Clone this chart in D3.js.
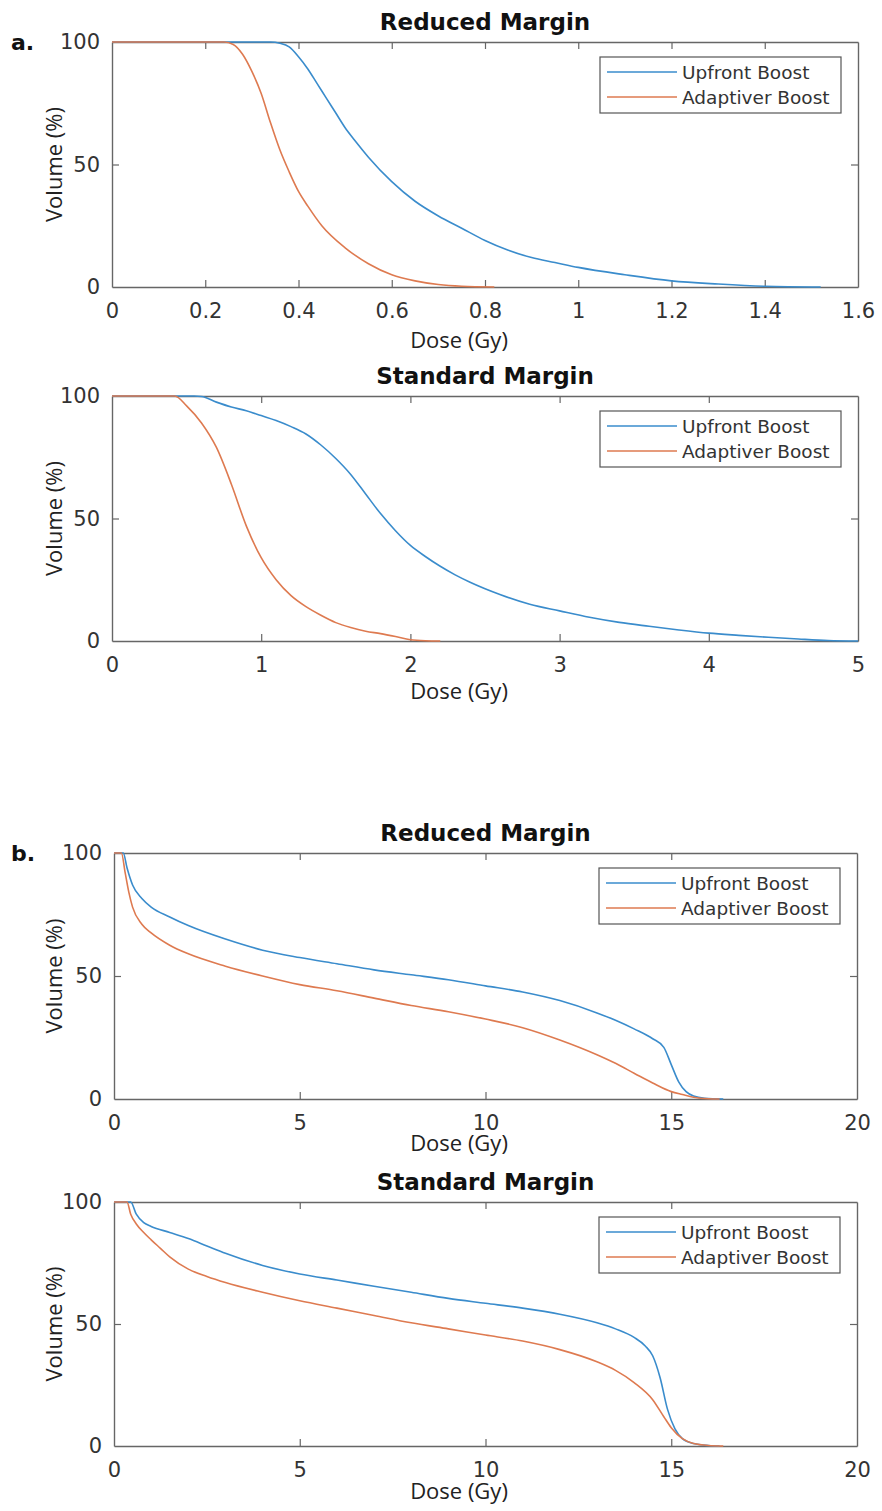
<!DOCTYPE html>
<html>
<head>
<meta charset="utf-8">
<script src="https://cdn.jsdelivr.net/npm/d3@7"></script>
<style>
  body { margin: 0; background: #fff; }
  svg { display: block; }
  .tick text { font-family: "DejaVu Sans", sans-serif; font-size: 21px; fill: #333; }
  .axlabel { font-family: "Open Sans", sans-serif; font-size: 22px; fill: #222; }
  .ptitle { font-family: "DejaVu Sans", sans-serif; font-weight: bold; font-size: 23px; fill: #111; }
  .legtext { font-family: "DejaVu Sans", sans-serif; font-size: 18.5px; fill: #333; }
  .panelTag { font-family: "DejaVu Sans", sans-serif; font-weight: bold; font-size: 22px; fill: #111; }
</style>
</head>
<body>
<svg id="chart" width="882" height="1511"></svg>
<script>
// dose (Gy), volume (%)
const aReducedUpfront = [[0,100],[0.3,100],[0.34,100],[0.36,99.5],[0.38,98],[0.40,94],[0.42,89],[0.44,83],[0.46,77],[0.48,71],[0.50,65],[0.52,60],[0.55,53],[0.6,43],[0.65,35],[0.7,29],[0.75,24],[0.8,19],[0.85,15],[0.9,12],[0.95,10],[1.0,8],[1.1,5],[1.2,2.5],[1.3,1.2],[1.4,0.3],[1.52,0]];
const aReducedAdaptive = [[0,100],[0.24,100],[0.26,99],[0.28,95],[0.3,88],[0.32,79],[0.34,67],[0.36,56],[0.38,47],[0.4,39],[0.42,33],[0.45,25],[0.5,16],[0.55,9.5],[0.6,5],[0.65,2.5],[0.7,1],[0.75,0.3],[0.82,0]];
const aStandardUpfront = [[0,100],[0.55,100],[0.6,99.8],[0.7,97.5],[0.8,95.5],[0.9,94],[1.0,92],[1.1,90],[1.2,87.5],[1.3,84.5],[1.4,80],[1.5,74.5],[1.6,68],[1.7,60],[1.8,52],[1.9,45],[2.0,39],[2.1,34.5],[2.2,30.5],[2.3,27],[2.4,24],[2.6,19],[2.8,15],[3.0,12.3],[3.2,9.7],[3.4,7.6],[3.6,6],[3.8,4.5],[4.0,3.2],[4.2,2.3],[4.4,1.5],[4.6,0.8],[4.8,0.2],[5.0,0]];
const aStandardAdaptive = [[0,100],[0.42,100],[0.5,96],[0.6,89],[0.7,79],[0.8,64],[0.9,47],[1.0,34],[1.1,25],[1.2,18.5],[1.3,14],[1.4,10.5],[1.5,7.5],[1.6,5.5],[1.7,4],[1.8,3],[1.9,1.8],[2.0,0.5],[2.1,0.1],[2.2,0]];
const bReducedUpfront = [[0,100],[0.25,100],[0.35,94],[0.5,87],[0.75,81.5],[1,78],[1.5,74],[2,70.5],[3,65],[4,60.5],[5,57.5],[6,55],[7,52.5],[8,50.5],[9,48.5],[10,46],[11,43.5],[12,40],[13,35],[13.5,32],[14,28.5],[14.5,24.5],[14.8,21],[15.0,14],[15.2,7],[15.4,3],[15.6,1.2],[15.9,0.3],[16.4,0]];
const bReducedAdaptive = [[0,100],[0.2,100],[0.3,92],[0.4,84],[0.5,78],[0.75,71],[1,67.5],[1.5,62.5],[2,59],[3,54],[4,50],[5,46.5],[6,44],[7,41],[8,38],[9,35.5],[10,32.5],[11,29],[12,24],[13,18],[13.5,14.5],[14,10.5],[14.5,6.5],[15,3],[15.3,1.8],[15.6,0.7],[16,0.1],[16.3,0]];
const bStandardUpfront = [[0,100],[0.45,100],[0.6,95],[0.8,91.5],[1,90],[1.5,87.5],[2,85],[2.5,82],[3,79],[4,74],[5,70.5],[6,68],[7,65.5],[8,63],[9,60.5],[10,58.5],[11,56.5],[12,54],[13,50.5],[13.5,48],[14,44.5],[14.3,41],[14.5,37],[14.7,28],[14.9,15],[15.1,7],[15.3,3],[15.6,1],[16,0.2],[16.3,0]];
const bStandardAdaptive = [[0,100],[0.35,100],[0.45,95],[0.6,91],[0.8,87.5],[1,84.5],[1.25,81],[1.5,77.5],[2,72.5],[2.5,69.5],[3,67],[4,63],[5,59.5],[6,56.5],[7,53.5],[8,50.5],[9,48],[10,45.5],[11,43],[12,39.5],[13,34.5],[13.5,31],[14,26],[14.5,19],[14.8,12],[15,7.5],[15.3,3],[15.6,1],[16,0.2],[16.4,0]];

const seriesNames = ['Upfront Boost', 'Adaptiver Boost'];
const seriesColors = ['#3a8ccc', '#de7a50'];
const yTicks = [0, 50, 100];
const xTicksA1 = [0, 0.2, 0.4, 0.6, 0.8, 1, 1.2, 1.4, 1.6];
const xTicksA2 = [0, 1, 2, 3, 4, 5];
const xTicksB = [0, 5, 10, 15, 20];
const titles = ['Reduced Margin', 'Standard Margin', 'Reduced Margin', 'Standard Margin'];

const svg = d3.select('#chart');

const panels = [
  { box: [112, 858, 42, 287], xmax: 1.6, xticks: xTicksA1, series: [aReducedUpfront, aReducedAdaptive], title: titles[0], tag: 'a.', labelGap: 61 },
  { box: [112, 858, 396, 641], xmax: 5, xticks: xTicksA2, series: [aStandardUpfront, aStandardAdaptive], title: titles[1], labelGap: 58 },
  { box: [114, 857, 853, 1099], xmax: 20, xticks: xTicksB, series: [bReducedUpfront, bReducedAdaptive], title: titles[2], tag: 'b.', labelGap: 52 },
  { box: [114, 857, 1202, 1446], xmax: 20, xticks: xTicksB, series: [bStandardUpfront, bStandardAdaptive], title: titles[3], labelGap: 53 }
];

panels.forEach(drawPanel);

function drawPanel(p) {
  let [left, right, top, bottom] = p.box;
  let w = right - left, h = bottom - top;

  let xscale = d3.scaleLinear().domain([0, p.xmax]).range([0, w]);
  let yscale = d3.scaleLinear().domain([0, 100]).range([h, 0]);

  let g = svg.append('g').attr('transform', `translate(${left},${top})`);

  let fmt = d3.format('~g');

  // matlab style box with inward ticks on every side
  let xAxis = d3.axisBottom(xscale).tickValues(p.xticks).tickFormat(fmt).tickSizeInner(-7).tickSizeOuter(0).tickPadding(16);
  let xTop = d3.axisTop(xscale).tickValues(p.xticks).tickFormat('').tickSizeInner(-7).tickSizeOuter(0);
  let yAxis = d3.axisLeft(yscale).tickValues(yTicks).tickFormat(fmt).tickSizeInner(-7).tickSizeOuter(0).tickPadding(12);
  let yRight = d3.axisRight(yscale).tickValues(yTicks).tickFormat('').tickSizeInner(-7).tickSizeOuter(0);

  g.append('g').attr('class', 'xAxis').attr('transform', `translate(0,${h})`).call(xAxis);
  g.append('g').attr('transform', `translate(0,0)`).call(xTop);
  g.append('g').attr('class', 'yAxis').call(yAxis);
  g.append('g').attr('transform', `translate(${w},0)`).call(yRight);

  g.selectAll('.domain').attr('stroke', '#666').attr('stroke-width', 1.4);
  g.selectAll('.tick line').attr('stroke', '#666').attr('stroke-width', 1.2);
  g.selectAll('.xAxis .tick text').attr('dy', '0.71em');
  // first/last tick sit on the box edge, drop those tick marks
  g.selectAll('.tick').filter(d => d === 0 || d === p.xmax || d === 100).select('line').remove();

  let line = d3.line()
    .x(d => xscale(d[0]))
    .y(d => yscale(d[1]))
    .curve(d3.curveMonotoneX);

  p.series.forEach((s, i) => {
    g.append('path')
      .datum(s)
      .attr('d', line)
      .attr('fill', 'none')
      .attr('stroke', seriesColors[i])
      .attr('stroke-width', 1.6);
  });

  // legend
  let lw = 241, lh = 56;
  let lx = w - 17 - lw, ly = 15;
  let leg = g.append('g').attr('transform', `translate(${lx},${ly})`);
  leg.append('rect').attr('width', lw).attr('height', lh)
    .attr('fill', '#fff').attr('stroke', '#555').attr('stroke-width', 1.2);
  seriesNames.forEach((n, i) => {
    let yy = 15 + i * 25;
    leg.append('line').attr('x1', 7).attr('x2', 77).attr('y1', yy).attr('y2', yy)
      .attr('stroke', seriesColors[i]).attr('stroke-width', 1.6);
    leg.append('text').attr('class', 'legtext').attr('x', 82).attr('y', yy).attr('dy', '0.36em').text(n);
  });

  // titles and labels
  svg.append('text').attr('class', 'ptitle').attr('x', left + w / 2).attr('y', top - 12)
    .attr('text-anchor', 'middle').text(p.title);

  svg.append('text').attr('class', 'axlabel').attr('x', 459).attr('y', bottom + p.labelGap)
    .attr('text-anchor', 'middle').text('Dose (Gy)');

  svg.append('text').attr('class', 'axlabel')
    .attr('transform', `translate(62,${top + h / 2})rotate(-90)`)
    .attr('text-anchor', 'middle').text('Volume (%)');

  if (p.tag) {
    svg.append('text').attr('class', 'panelTag').attr('x', 11).attr('y', top + 8).text(p.tag);
  }
}
</script>
</body>
</html>
